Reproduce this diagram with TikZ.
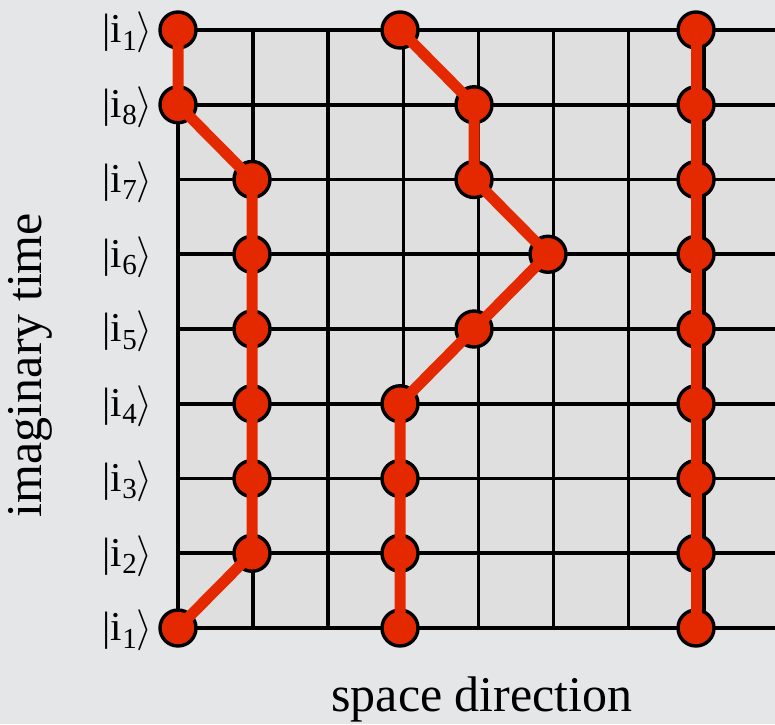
\documentclass[tikz,border=0pt]{standalone}
\usepackage{fix-cm}
\usepackage{fontspec}
\setmainfont{Liberation Serif}[Ligatures=TeX]
\newfontfamily\tms{Liberation Serif}
\definecolor{bgcol}{RGB}{228,230,232}
\definecolor{gridfill}{RGB}{223,223,223}
\definecolor{wlred}{RGB}{228,40,0}
\tikzset{
  gridline/.style={line width=3.6pt, black, line cap=rect},
  site/.style={circle, draw=black, line width=3.4pt, fill=wlred, minimum size=36pt, inner sep=0pt},
  wline/.style={line width=11pt, wlred, line join=round},
  ket/.style={inner sep=0pt, anchor=east, font=\tms\fontsize{41}{49}\selectfont},
  axislabel/.style={inner sep=0pt, font=\tms\fontsize{50}{60}\selectfont}
}
\begin{document}
\begin{tikzpicture}[x=1pt,y=-1pt]
\useasboundingbox (0,0) rectangle (775,724);
\fill[bgcol] (0,0) rectangle (775,724);
\begin{scope}
\clip (0,0) rectangle (775,724);
\fill[gridfill] (178,30) rectangle (800,628);
\foreach \k in {0,...,8} \draw[gridline] ({178+75.1*\k},30) -- ({178+75.1*\k},628);
\foreach \r in {0,...,8} \draw[gridline] (178,{30+74.75*\r}) -- (800,{30+74.75*\r});
\end{scope}
% world lines: sites
\foreach \c [count=\r from 0] in {0,0,1,1,1,1,1,1,0}
  \node[site] (a\r) at ({178+74*\c},{30+74.75*\r}) {};
\foreach \c [count=\r from 0] in {3,4,4,5,4,3,3,3,3}
  \node[site] (b\r) at ({178+74*\c},{30+74.75*\r}) {};
\foreach \c [count=\r from 0] in {7,7,7,7,7,7,7,7,7}
  \node[site] (c\r) at ({178+74*\c},{30+74.75*\r}) {};
% world lines: segments
\draw[wline] (a0.center) \foreach \r in {1,...,8} { -- (a\r.center) };
\draw[wline] (b0.center) \foreach \r in {1,...,8} { -- (b\r.center) };
\draw[wline] (c0.center) \foreach \r in {1,...,8} { -- (c\r.center) };
% ket labels
\foreach \n [count=\r from 0] in {1,8,7,6,5,4,3,2,1}
  \node[ket] (k\r) at (153,{32.5+74.75*\r}) {|i\raisebox{-0.18em}{\fontsize{29}{30}\selectfont\n}$\rangle$};
% axis labels
\node[axislabel, rotate=90] (ylab) at (30,365) {imaginary time};
\node[axislabel] (xlab) at (482,699) {space direction};
\end{tikzpicture}
\end{document}
